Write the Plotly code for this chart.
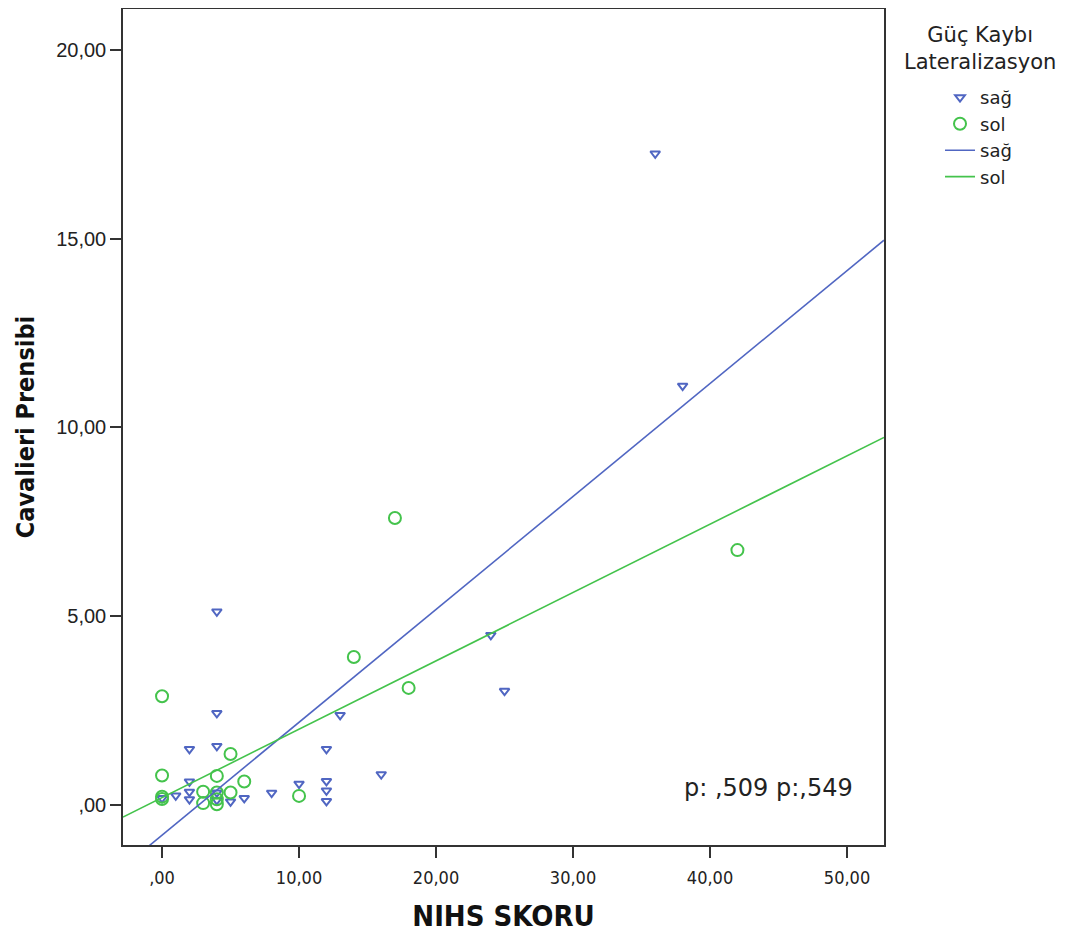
import numpy as np
import plotly.graph_objects as go

# --- data ---
sag_x = [36, 38, 4, 24, 25, 4, 13, 2, 4, 12, 16, 2, 12, 10, 12, 12, 8, 2, 2, 1, 0, 4, 4, 5, 6]
sag_y = [17.25, 11.1, 5.12, 4.5, 3.02, 2.43, 2.38, 1.48, 1.56, 1.48, 0.81, 0.62, 0.63, 0.56,
         0.38, 0.10, 0.32, 0.35, 0.15, 0.25, 0.18, 0.33, 0.13, 0.09, 0.18]

sol_x = [17, 42, 14, 18, 0, 5, 0, 4, 6, 3, 5, 4, 3, 4, 0, 0, 10, 4]
sol_y = [7.6, 6.75, 3.92, 3.1, 2.88, 1.35, 0.78, 0.77, 0.62, 0.35, 0.33, 0.33, 0.05, 0.02,
         0.22, 0.16, 0.24, 0.15]

# fitted regression lines (intercept, slope) as shown
sag_fit = [-0.80, 0.299]
sol_fit = [0.196, 0.181]

x_range = [-2.85, 52.7]
y_range = [-1.06, 21.08]

x_ticks = [0, 10, 20, 30, 40, 50]
x_ticktext = [",00", "10,00", "20,00", "30,00", "40,00", "50,00"]
y_ticks = [0, 5, 10, 15, 20]
y_ticktext = [",00", "5,00", "10,00", "15,00", "20,00"]

BLUE = "#5066c2"
GREEN = "#44c34c"

fit_x = np.array(x_range)

fig = go.Figure()
fig.add_trace(go.Scatter(
    x=sag_x, y=sag_y, mode="markers", name="sağ",
    marker=dict(symbol="triangle-down-open", size=8.5, color=BLUE, line=dict(width=2, color=BLUE)),
))
fig.add_trace(go.Scatter(
    x=sol_x, y=sol_y, mode="markers", name="sol",
    marker=dict(symbol="circle-open", size=12, color=GREEN, line=dict(width=2, color=GREEN)),
))
fig.add_trace(go.Scatter(
    x=fit_x, y=sag_fit[0] + sag_fit[1] * fit_x, mode="lines", name="sağ",
    line=dict(color=BLUE, width=1.6),
))
fig.add_trace(go.Scatter(
    x=fit_x, y=sol_fit[0] + sol_fit[1] * fit_x, mode="lines", name="sol",
    line=dict(color=GREEN, width=1.6),
))

axis_common = dict(
    showgrid=False, zeroline=False, showline=True, linecolor="#333333", linewidth=1.5,
    mirror=True, ticks="outside", ticklen=11, tickwidth=1.5, tickcolor="#333333",
    automargin=False,
)

fig.update_xaxes(
    range=x_range, tickvals=x_ticks, ticktext=x_ticktext, ticklabelstandoff=5,
    tickfont=dict(family="Liberation Sans Narrow, DejaVu Sans Condensed, sans-serif", size=18, color="#222"),
    title=dict(text="<b>NIHS SKORU</b>", standoff=20,
               font=dict(family="Liberation Sans Narrow, DejaVu Sans Condensed, sans-serif", size=29, color="#111")),
    **axis_common,
)
fig.update_yaxes(
    range=y_range, tickvals=y_ticks, ticktext=y_ticktext,
    tickfont=dict(family="Liberation Sans, Arial, sans-serif", size=20, color="#222"),
    title=dict(text="<b>Cavalieri Prensibi</b>", standoff=14,
               font=dict(family="Liberation Sans Narrow, DejaVu Sans Condensed, sans-serif", size=25, color="#111")),
    **axis_common,
)

fig.add_annotation(
    x=0.7346, y=0.068, xref="paper", yref="paper", xanchor="left", yanchor="middle",
    text="p: ,509 p:,549", showarrow=False,
    font=dict(family="DejaVu Sans, sans-serif", size=24, color="#222"),
)
fig.add_annotation(
    x=1.126, y=0.986, xref="paper", yref="paper", xanchor="center", yanchor="top",
    text="Güç Kaybı<br>Lateralizasyon", showarrow=False, align="center",
    font=dict(family="DejaVu Sans, sans-serif", size=21, color="#222"),
)

# the page body has an 8px margin, so the figure is sized to fit inside the window
fig.update_layout(
    width=1058, height=925,
    margin=dict(l=115, r=182, t=1, b=88),
    paper_bgcolor="white", plot_bgcolor="white",
    legend=dict(
        x=1.0736, y=0.916, xanchor="left", yanchor="top",
        font=dict(family="DejaVu Sans, sans-serif", size=18, color="#222"),
        tracegroupgap=0, itemwidth=30, bgcolor="rgba(0,0,0,0)",
    ),
    showlegend=True,
)

fig.write_html("out.html")
